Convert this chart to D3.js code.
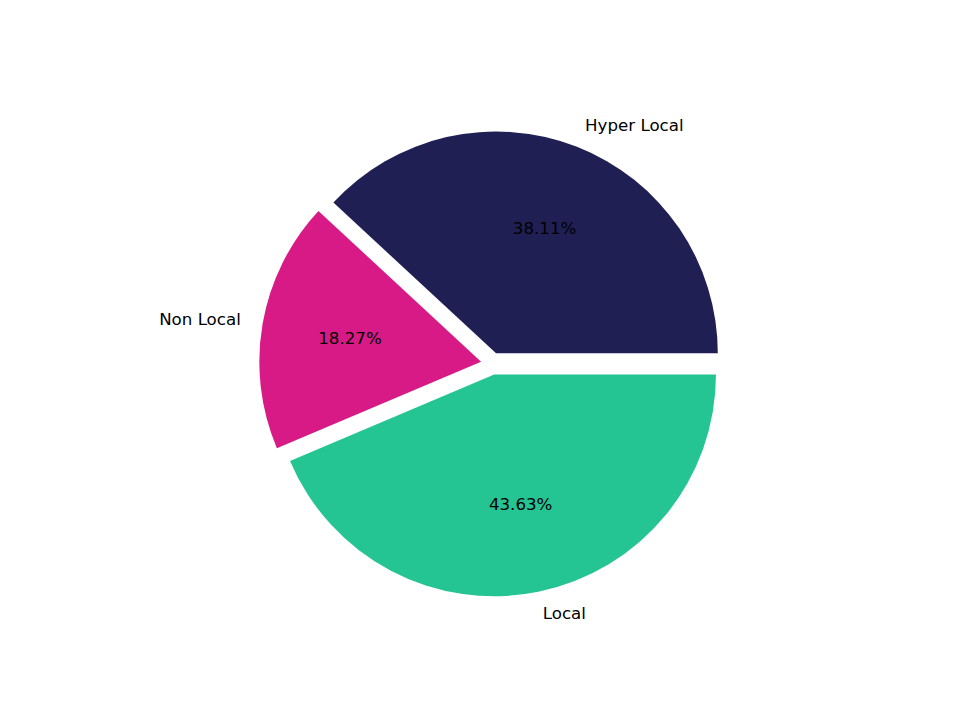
<!DOCTYPE html>
<html><head><meta charset="utf-8">
<script src="https://cdn.jsdelivr.net/npm/d3@7"></script>
<style>body{margin:0;background:#fff}</style>
</head><body>
<svg id="chart" width="960" height="720"></svg>
<script>
const labels = ["Hyper Local", "Non Local", "Local"];
const values = [38.11, 18.27, 43.63];
const colors = ["#1f1f54", "#d81a87", "#25c493"];
const explode = [0.05, 0.05, 0.05];

const W = 960, H = 720;
const svg = d3.select("#chart");
svg.append("rect").attr("width", W).attr("height", H).attr("fill", "#fff");

// axes region like matplotlib default
const axL = 0.125 * W, axR = 0.9 * W, axB = H - 0.11 * H, axT = H - 0.88 * H;
const cx = (axL + axR) / 2, cy = (axT + axB) / 2;
const R = Math.min(axR - axL, axB - axT) / 2.5;

const pie = d3.pie().sort(null).value(d => d)
  .startAngle(Math.PI / 2).endAngle(Math.PI / 2 - 2 * Math.PI);
const arcs = pie(values);
const arc = d3.arc().innerRadius(0).outerRadius(R);

const g = svg.append("g");
arcs.forEach((a, i) => {
  const mid = (a.startAngle + a.endAngle) / 2; // d3 angle: 0 = up, clockwise
  const dx = Math.sin(mid), dy = -Math.cos(mid);
  const ox = cx + explode[i] * R * dx, oy = cy + explode[i] * R * dy;
  g.append("path")
    .attr("d", arc(a))
    .attr("transform", `translate(${ox},${oy})`)
    .attr("fill", colors[i]);
  // label
  const lx = ox + 1.1 * R * dx, ly = oy + 1.1 * R * dy;
  g.append("text")
    .attr("x", lx).attr("y", ly).attr("dy", "0.3em")
    .attr("text-anchor", dx > 0 ? "start" : "end")
    .attr("font-family", "DejaVu Sans").attr("font-size", 16.67)
    .attr("fill", "#000")
    .text(labels[i]);
  const px = ox + 0.6 * R * dx, py = oy + 0.6 * R * dy;
  g.append("text")
    .attr("x", px).attr("y", py).attr("dy", "0.3em")
    .attr("text-anchor", "middle")
    .attr("font-family", "DejaVu Sans").attr("font-size", 16.67)
    .attr("fill", "#000")
    .text(values[i].toFixed(2) + "%");
});
</script>
</body></html>
